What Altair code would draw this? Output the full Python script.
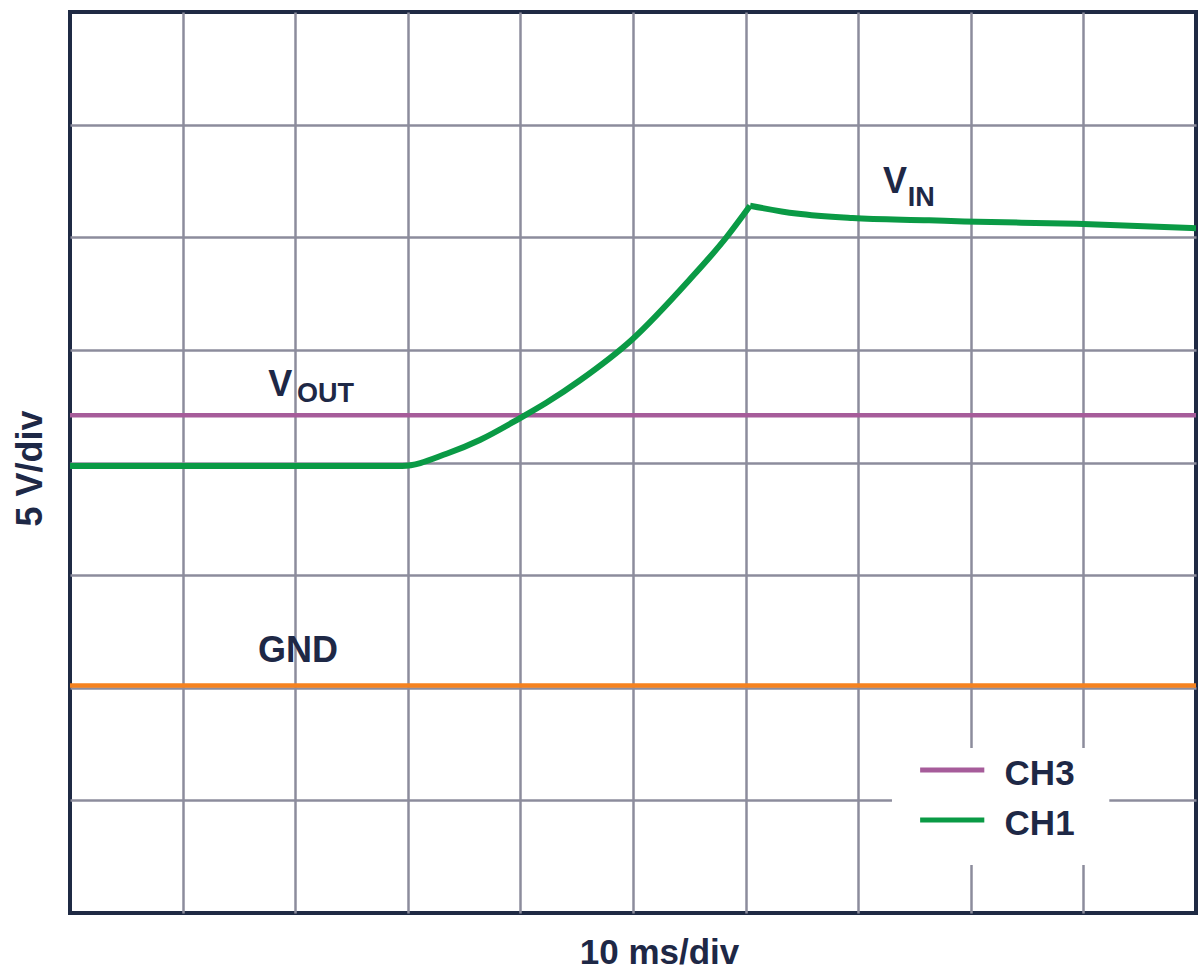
import altair as alt
import pandas as pd

# ---- data (in divisions: x 0..10 at 10 ms/div, y 0..8 at 5 V/div) ----
ch1_t = [0.0, 2.95, 3.35, 3.64, 3.99, 4.23, 4.53, 4.99, 5.50, 5.83, 6.04,
         6.45, 6.95, 7.63, 7.94, 8.94, 10.0]
ch1_v = [3.97, 3.97, 4.08, 4.20, 4.39, 4.53, 4.73, 5.09, 5.62, 6.00, 6.28,
         6.21, 6.17, 6.15, 6.14, 6.12, 6.08]
ch1_peak_t = 6.04
ch3_t = [0.0, 10.0]
ch3_v = [4.42, 4.42]
gnd_t = [0.0, 10.0]
gnd_v = [2.02, 2.02]

x_ticks = list(range(1, 10))
y_ticks = list(range(1, 8))

legend_names = ["CH3", "CH1"]
legend_colors = ["#a65c9a", "#0a9a45"]

FONT = "Liberation Sans"
TXT = "#1e2846"

lines_df = pd.concat([
    pd.DataFrame({"t": gnd_t, "v": gnd_v, "trace": "GND"}),
    pd.DataFrame({"t": ch3_t, "v": ch3_v, "trace": "CH3"}),
    pd.DataFrame({"t": ch1_t, "v": ch1_v, "trace": "CH1"}),
])

xs = alt.Scale(domain=[0, 10], nice=False)
ys = alt.Scale(domain=[0, 8], nice=False)

xaxis = alt.Axis(values=x_ticks, labels=False, ticks=False, domain=False, grid=True,
                 gridColor="#8c8c9c", gridWidth=2.5, title="10 ms/div",
                 titleFont=FONT, titleFontSize=35, titleFontWeight="bold", titleColor=TXT,
                 titleX=589, titleY=50, titleBaseline="alphabetic", titleAlign="center")
yaxis = alt.Axis(values=y_ticks, labels=False, ticks=False, domain=False, grid=True,
                 gridColor="#8c8c9c", gridWidth=2.5, title="5 V/div",
                 titleFont=FONT, titleFontSize=36, titleFontWeight="bold", titleColor=TXT,
                 titleX=-40, titleY=456, titleAngle=270, titleBaseline="middle", titleAlign="center")


def X(f):
    return alt.X(f, scale=xs, axis=xaxis)


def Y(f):
    return alt.Y(f, scale=ys, axis=yaxis)


base = alt.Chart(lines_df)

# legend box (white panel that hides the grid)
box = alt.Chart(pd.DataFrame({"x1": [7.30], "x2": [9.23], "y1": [0.426], "y2": [1.465]})).mark_rect(
    fill="white"
).encode(x=X("x1:Q"), x2="x2:Q", y=Y("y1:Q"), y2="y2:Q")


def trace(name, color, width, filt=None, interp="linear"):
    c = base.transform_filter(alt.datum.trace == name)
    if filt is not None:
        c = c.transform_filter(filt)
    return c.mark_line(
        color=color, strokeWidth=width, strokeJoin="round", strokeCap="butt", clip=True,
        interpolate=interp
    ).encode(x=X("t:Q"), y=Y("v:Q"), order="t:Q")


gnd_line = trace("GND", "#f5821f", 4.5)
ch3_line = trace("CH3", legend_colors[0], 4.5)
ch1_rise = trace("CH1", legend_colors[1], 6, alt.datum.t <= ch1_peak_t, "monotone")
ch1_fall = trace("CH1", legend_colors[1], 6, alt.datum.t >= ch1_peak_t, "monotone")

# legend entries
leg_df = pd.DataFrame({"name": legend_names, "color": legend_colors,
                       "x1": [7.55, 7.55], "x2": [8.12, 8.12], "y": [1.27, 0.826],
                       "tx": [8.30, 8.30], "ty": [1.136, 0.69]})
leg_lines = alt.Chart(leg_df).mark_rule(strokeWidth=5, strokeCap="butt").encode(
    x=X("x1:Q"), x2="x2:Q", y=Y("y:Q"),
    color=alt.Color("color:N", scale=None, legend=None))
leg_text = alt.Chart(leg_df).mark_text(
    font=FONT, fontSize=35, fontWeight="bold", color=TXT, align="left", baseline="alphabetic"
).encode(x=X("tx:Q"), y=Y("ty:Q"), text="name:N")

# trace annotations (main letter + subscript)
big_df = pd.DataFrame({"txt": ["V", "GND", "V"], "x": [1.76, 1.67, 7.22], "y": [4.59, 2.23, 6.39]})
sub_df = pd.DataFrame({"txt": ["OUT", "IN"], "x": [2.015, 7.44], "y": [4.54, 6.28]})
big_text = alt.Chart(big_df).mark_text(
    font=FONT, fontSize=36, fontWeight="bold", color=TXT, align="left", baseline="alphabetic"
).encode(x=X("x:Q"), y=Y("y:Q"), text="txt:N")
sub_text = alt.Chart(sub_df).mark_text(
    font=FONT, fontSize=27, fontWeight="bold", color=TXT, align="left", baseline="alphabetic"
).encode(x=X("x:Q"), y=Y("y:Q"), text="txt:N")

chart = alt.layer(
    box, gnd_line, ch3_line, ch1_rise, ch1_fall, leg_lines, leg_text, big_text, sub_text
).properties(
    width=1126, height=901,
    padding={"left": 70, "top": 12, "right": 5, "bottom": 59},
    autosize=alt.AutoSizeParams(type="none"),
    background="white",
).configure_view(stroke="#1f2a44", strokeWidth=4)

chart.save("out.html", embed_options={"renderer": "svg", "actions": False})
